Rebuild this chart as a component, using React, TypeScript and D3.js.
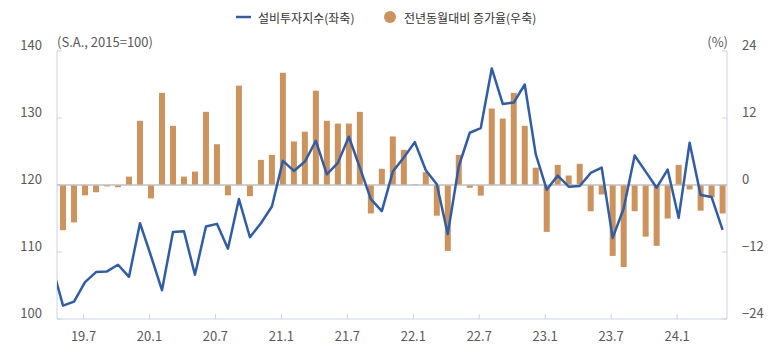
import React from 'react';
import * as d3 from 'd3';

// months (19.4 is only there so the line runs in from the left edge)
const months = [
  '19.4', '19.5', '19.6', '19.7', '19.8', '19.9', '19.10', '19.11', '19.12',
  '20.1', '20.2', '20.3', '20.4', '20.5', '20.6', '20.7', '20.8', '20.9', '20.10', '20.11', '20.12',
  '21.1', '21.2', '21.3', '21.4', '21.5', '21.6', '21.7', '21.8', '21.9', '21.10', '21.11', '21.12',
  '22.1', '22.2', '22.3', '22.4', '22.5', '22.6', '22.7', '22.8', '22.9', '22.10', '22.11', '22.12',
  '23.1', '23.2', '23.3', '23.4', '23.5', '23.6', '23.7', '23.8', '23.9', '23.10', '23.11', '23.12',
  '24.1', '24.2', '24.3', '24.4', '24.5',
];

// 설비투자지수 (left axis)
const indexValues = [
  107.9, 102.0, 102.6, 105.5, 107.0, 107.1, 108.1, 106.3, 114.3,
  109.4, 104.3, 113.0, 113.1, 106.6, 113.8, 114.2, 110.5, 117.9, 112.2, 114.3, 116.8,
  123.6, 122.1, 123.5, 126.6, 121.6, 123.3, 127.2, 122.6, 117.9, 116.1, 122.0, 124.1,
  126.4, 122.2, 120.1, 112.7, 122.8, 127.8, 128.5, 137.4, 132.1, 132.3, 135.0, 124.6,
  119.3, 121.4, 119.75, 119.85, 121.8, 122.6, 112.1, 116.5, 124.4, 122.0, 119.6, 122.3,
  115.1, 126.3, 118.5, 118.2, 113.3,
];

// 전년동월대비 증가율 (right axis, %)
const yoyValues: (number | null)[] = [
  null, -8.1, -6.7, -1.85, -1.3, -0.25, -0.4, 1.5, 11.5,
  -2.4, 16.5, 10.6, 1.5, 2.4, 13.1, 7.3, -1.85, 17.8, -2.0, 4.5, 5.4,
  20.1, 7.8, 9.55, 16.9, 11.5, 11.0, 11.0, 13.1, -5.1, 2.9, 8.7, 6.3,
  0.1, 2.3, -5.5, -11.8, 5.4, -0.5, -1.9, 13.7, 11.9, 16.5, 10.6, 3.1,
  -8.4, 3.6, 1.7, 3.8, -4.7, -1.7, -12.7, -14.7, -4.7, -9.25, -10.9, -6.0,
  3.6, -0.8, -4.6, -2.2, -5.1,
];

const xTickLabels = ['19.7', '20.1', '20.7', '21.1', '21.7', '22.1', '22.7', '23.1', '23.7', '24.1'];
const leftTicks = [100, 110, 120, 130, 140];
const rightTicks = [-24, -12, 0, 12, 24];

const W = 782, H = 354;
const margin = { top: 51, right: 55, bottom: 35, left: 57 };
const FONT = '"Noto Sans CJK KR", "Noto Sans", sans-serif';
const LINE_COLOR = '#2F5DA8';
const BAR_COLOR = '#CD935C';
const AXIS_COLOR = '#C9D3E5';
const TEXT_COLOR = '#595959';

export default function App() {
  const x0 = margin.left, x1 = W - margin.right;
  const y0 = margin.top, y1 = H - margin.bottom;

  const x = d3.scaleLinear().domain([0.45, months.length - 0.6]).range([x0, x1]);
  const yL = d3.scaleLinear().domain([100, 140]).range([y1, y0]);
  const yR = d3.scaleLinear().domain([-24, 24]).range([y1, y0]);
  const barW = 6;

  const line = d3.line<number>()
    .x((d, i) => x(i))
    .y(d => yL(d));

  const fmt = (v: number) => (v < 0 ? '\u2212' + Math.abs(v) : String(v));

  return (
    <svg width={W} height={H} style={{ position: 'absolute', left: 0, top: 0 }} fontFamily={FONT}>
      <defs>
        <clipPath id="plot">
          <rect x={x0} y={0} width={x1 - x0} height={y1} />
        </clipPath>
      </defs>

      {/* legend */}
      <g>
        <line x1={236} x2={251} y1={17} y2={17} stroke={LINE_COLOR} strokeWidth={2.5} />
        <text x={258} y={17} fontSize={12} fill="#333" dominantBaseline="central">설비투자지수(좌축)</text>
        <circle cx={390} cy={17} r={6} fill={BAR_COLOR} />
        <text x={404} y={17} fontSize={12} fill="#333" dominantBaseline="central">전년동월대비 증가율(우축)</text>
      </g>

      {/* unit labels */}
      <text x={57} y={41} fontSize={13} fill={TEXT_COLOR} dominantBaseline="central">(S.A., 2015=100)</text>
      <text x={728} y={41} fontSize={13} fill={TEXT_COLOR} textAnchor="end" dominantBaseline="central">(%)</text>

      {/* axes */}
      <g stroke={AXIS_COLOR} strokeWidth={1} fill="none">
        <line x1={x0} x2={x0} y1={y0} y2={y1} />
        <line x1={x1} x2={x1} y1={y0} y2={y1} />
        <line x1={x0} x2={x1} y1={y1} y2={y1} />
        {leftTicks.map(t => (
          <line key={'l' + t} x1={x0} x2={x0 + 5} y1={yL(t)} y2={yL(t)} />
        ))}
        {rightTicks.map(t => (
          <line key={'r' + t} x1={x1 - 5} x2={x1} y1={yR(t)} y2={yR(t)} />
        ))}
        {xTickLabels.map(m => {
          const xi = x(months.indexOf(m)) - 1.5;
          return <line key={'x' + m} x1={xi} x2={xi} y1={y1 - 5} y2={y1} />;
        })}
      </g>

      {leftTicks.map(t => (
        <text key={'lt' + t} x={42} y={yL(t) - 6.5} fontSize={13} fill={TEXT_COLOR}
          textAnchor="end" dominantBaseline="central">{t}</text>
      ))}
      {rightTicks.map(t => (
        <text key={'rt' + t} x={742} y={yR(t) - 6.5} fontSize={13} fill={TEXT_COLOR}
          dominantBaseline="central">{fmt(t)}</text>
      ))}
      {xTickLabels.map(m => (
        <text key={'xt' + m} x={x(months.indexOf(m)) - 1.5} y={335} fontSize={13} fill={TEXT_COLOR}
          textAnchor="middle" dominantBaseline="central">{m}</text>
      ))}

      {/* bars */}
      <g clipPath="url(#plot)">
        {yoyValues.map((v, i) => v == null ? null : (
          <rect key={'b' + i}
            x={x(i) - barW / 2}
            y={Math.min(yR(v), yR(0))}
            width={barW}
            height={Math.abs(yR(v) - yR(0))}
            fill={BAR_COLOR} />
        ))}
        <line x1={x0} x2={x1} y1={yR(0)} y2={yR(0)} stroke="#BFBFBF" strokeWidth={1.5} />
        <path d={line(indexValues) || ''} fill="none" stroke={LINE_COLOR} strokeWidth={2.5}
          strokeLinejoin="round" />
      </g>
    </svg>
  );
}
